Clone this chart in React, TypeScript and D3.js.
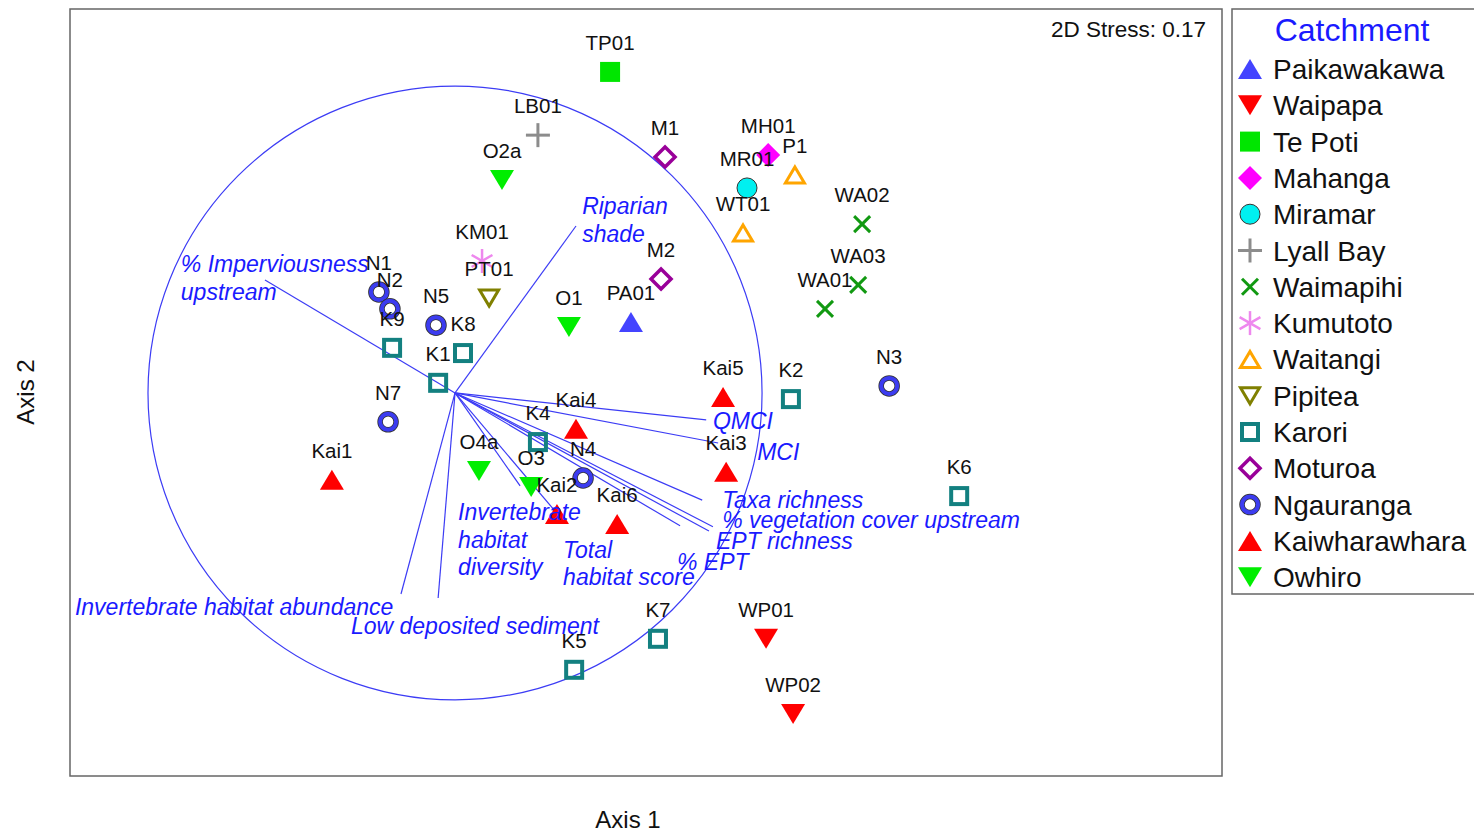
import React from "react";
import * as d3 from "d3";

// ---------- DATA ----------
const catchments = [
  "Paikawakawa", "Waipapa", "Te Poti", "Mahanga", "Miramar", "Lyall Bay", "Waimapihi",
  "Kumutoto", "Waitangi", "Pipitea", "Karori", "Moturoa", "Ngauranga", "Kaiwharawhara", "Owhiro",
];

const siteNames = [
  "TP01", "LB01", "O2a", "M1", "MH01", "MR01", "P1", "WT01", "WA02", "WA03", "WA01", "M2",
  "KM01", "PT01", "O1", "PA01", "N1", "N2", "K9", "N5", "K8", "K1", "N7", "Kai1", "O4a",
  "K4", "Kai4", "O3", "N4", "Kai2", "Kai6", "Kai5", "Kai3", "K2", "N3", "K6", "K7", "K5",
  "WP01", "WP02",
];
const siteCatchment = [
  "Te Poti", "Lyall Bay", "Owhiro", "Moturoa", "Mahanga", "Miramar", "Waitangi", "Waitangi",
  "Waimapihi", "Waimapihi", "Waimapihi", "Moturoa", "Kumutoto", "Pipitea", "Owhiro", "Paikawakawa",
  "Ngauranga", "Ngauranga", "Karori", "Ngauranga", "Karori", "Karori", "Ngauranga", "Kaiwharawhara",
  "Owhiro", "Karori", "Kaiwharawhara", "Owhiro", "Ngauranga", "Kaiwharawhara", "Kaiwharawhara",
  "Kaiwharawhara", "Kaiwharawhara", "Karori", "Ngauranga", "Karori", "Karori", "Karori",
  "Waipapa", "Waipapa",
];
const axis1 = [
  0.505, 0.270, 0.153, 0.684, 1.020, 0.951, 1.107, 0.938, 1.326, 1.313, 1.205, 0.671,
  0.088, 0.111, 0.371, 0.573, -0.248, -0.212, -0.205, -0.062, 0.026, -0.055, -0.218, -0.401,
  0.078, 0.270, 0.394, 0.248, 0.417, 0.332, 0.528, 0.873, 0.883, 1.094, 1.414, 1.642,
  0.661, 0.388, 1.013, 1.101,
];
const axis2 = [
  1.046, 0.840, 0.694, 0.769, 0.775, 0.668, 0.710, 0.521, 0.550, 0.352, 0.274, 0.371,
  0.430, 0.309, 0.215, 0.231, 0.329, 0.274, 0.147, 0.221, 0.130, 0.033, -0.094, -0.283,
  -0.254, -0.160, -0.117, -0.306, -0.277, -0.394, -0.427, -0.013, -0.257, -0.020, 0.023, -0.336,
  -0.801, -0.902, -0.801, -1.046,
];

// Environmental / biotic vectors (correlation coordinates)
const vectorNames = [
  "% Imperviousness upstream", "Riparian shade", "QMCI", "MCI", "Taxa richness",
  "% vegetation cover upstream", "EPT richness", "% EPT", "Total habitat score",
  "Invertebrate habitat diversity", "Invertebrate habitat abundance", "Low deposited sediment",
];
const vectorX = [-0.619, 0.394, 0.818, 0.857, 0.805, 0.840, 0.827, 0.733, 0.336, 0.212, -0.176, -0.055];
const vectorY = [0.368, 0.544, -0.088, -0.163, -0.349, -0.436, -0.450, -0.433, -0.397, -0.303, -0.655, -0.668];
const vectorLabelLines = [
  ["% Imperviousness", "upstream"], ["Riparian", "shade"], ["QMCI"], ["MCI"], ["Taxa richness"],
  ["% vegetation cover upstream"], ["EPT richness"], ["% EPT"], ["Total", "habitat score"],
  ["Invertebrate", "habitat", "diversity"], ["Invertebrate habitat abundance"], ["Low deposited sediment"],
];
// label anchors (data units)
const vectorLabelX = [-0.893, 0.414, 0.840, 0.984, 0.870, 0.870, 0.850, 0.723, 0.352, 0.010, -1.238, -0.339];
const vectorLabelY = [0.394, 0.583, -0.117, -0.218, -0.375, -0.440, -0.508, -0.577, -0.537, -0.414, -0.723, -0.785];

const stressText = "2D Stress: 0.17";
const xDomain = [-1.254, 2.498];
const yDomain = [-1.248, 1.251];

// ---------- STYLES ----------
const catchmentStyle: Record<string, { shape: string; color: string }> = {
  Paikawakawa: { shape: "triUp", color: "#4444ff" },
  Waipapa: { shape: "triDown", color: "#ff0000" },
  "Te Poti": { shape: "square", color: "#00e600" },
  Mahanga: { shape: "diamond", color: "#ff00ff" },
  Miramar: { shape: "circleFill", color: "#00f0f0" },
  "Lyall Bay": { shape: "plus", color: "#8c8c8c" },
  Waimapihi: { shape: "cross", color: "#119911" },
  Kumutoto: { shape: "asterisk", color: "#ee88ee" },
  Waitangi: { shape: "triUpOpen", color: "#ffa500" },
  Pipitea: { shape: "triDownOpen", color: "#808000" },
  Karori: { shape: "squareOpen", color: "#138080" },
  Moturoa: { shape: "diamondOpen", color: "#990099" },
  Ngauranga: { shape: "circleOpen", color: "#3c3cf0" },
  Kaiwharawhara: { shape: "triUp", color: "#ff0000" },
  Owhiro: { shape: "triDown", color: "#00ee00" },
};

const FONT = "Arial, 'Liberation Sans', Helvetica, sans-serif";
const VEC = "#3c3cf5";
const VEC_TEXT = "#1a1aff";

function Marker({ shape, color, x, y }: { shape: string; color: string; x: number; y: number }) {
  const w = 24, h = 20;
  switch (shape) {
    case "triUp":
      return <path d={`M${x},${y - h / 2}L${x + w / 2},${y + h / 2}L${x - w / 2},${y + h / 2}Z`} fill={color} />;
    case "triDown":
      return <path d={`M${x},${y + h / 2}L${x + w / 2},${y - h / 2}L${x - w / 2},${y - h / 2}Z`} fill={color} />;
    case "triUpOpen": {
      const a = 9.5, b = 8;
      return <path d={`M${x},${y - b}L${x + a},${y + b}L${x - a},${y + b}Z`} fill="none" stroke={color} strokeWidth={3} strokeLinejoin="miter" />;
    }
    case "triDownOpen": {
      const a = 9.5, b = 8;
      return <path d={`M${x},${y + b}L${x + a},${y - b}L${x - a},${y - b}Z`} fill="none" stroke={color} strokeWidth={3} />;
    }
    case "square":
      return <rect x={x - 10} y={y - 10} width={20} height={20} fill={color} />;
    case "squareOpen":
      return <rect x={x - 8} y={y - 8} width={16} height={16} fill="none" stroke={color} strokeWidth={4} />;
    case "diamond":
      return <path d={`M${x},${y - 12}L${x + 12},${y}L${x},${y + 12}L${x - 12},${y}Z`} fill={color} />;
    case "diamondOpen":
      return <path d={`M${x},${y - 10}L${x + 10},${y}L${x},${y + 10}L${x - 10},${y}Z`} fill="none" stroke={color} strokeWidth={3.5} />;
    case "circleFill":
      return <circle cx={x} cy={y} r={10} fill={color} stroke="#333" strokeWidth={1} />;
    case "circleOpen":
      return (
        <g>
          <circle cx={x} cy={y} r={8} fill="#fff" stroke="#333" strokeWidth={5.5} />
          <circle cx={x} cy={y} r={8} fill="none" stroke={color} strokeWidth={4} />
        </g>
      );
    case "plus":
      return (
        <g stroke={color} strokeWidth={3}>
          <line x1={x - 12} y1={y} x2={x + 12} y2={y} />
          <line x1={x} y1={y - 12} x2={x} y2={y + 12} />
        </g>
      );
    case "cross":
      return (
        <g stroke={color} strokeWidth={3}>
          <line x1={x - 8} y1={y - 8} x2={x + 8} y2={y + 8} />
          <line x1={x - 8} y1={y + 8} x2={x + 8} y2={y - 8} />
        </g>
      );
    case "asterisk": {
      const r = 12;
      const angs = [90, 30, 150];
      return (
        <g stroke={color} strokeWidth={2.5}>
          {angs.map((a) => {
            const rad = (a * Math.PI) / 180;
            return <line key={a} x1={x - r * Math.cos(rad)} y1={y - r * Math.sin(rad)} x2={x + r * Math.cos(rad)} y2={y + r * Math.sin(rad)} />;
          })}
        </g>
      );
    }
    default:
      return null;
  }
}

export default function App() {
  const W = 1474, H = 832;
  const frame = { left: 70, top: 9, right: 1222, bottom: 776 };
  const x = d3.scaleLinear().domain(xDomain).range([frame.left, frame.right]);
  const y = d3.scaleLinear().domain(yDomain).range([frame.bottom, frame.top]);
  const ox = x(0), oy = y(0);
  const rx = x(1) - x(0), ry = y(0) - y(1);

  const legend = { x: 1232, y: 9, rowY0: 69, rowDy: 36.3 };

  return (
    <svg width={W} height={H} style={{ position: "absolute", left: 0, top: 0, background: "#fff" }} fontFamily={FONT}>
      <rect x={0} y={0} width={W} height={H} fill="#fff" />
      {/* plot frame */}
      <rect x={frame.left} y={frame.top} width={frame.right - frame.left} height={frame.bottom - frame.top} fill="none" stroke="#666" strokeWidth={1.5} />

      {/* correlation circle */}
      <ellipse cx={ox} cy={oy} rx={rx} ry={ry} fill="none" stroke={VEC} strokeWidth={1.2} />

      {/* vectors */}
      {vectorNames.map((n, i) => (
        <line key={n} x1={ox} y1={oy} x2={x(vectorX[i])} y2={y(vectorY[i])} stroke={VEC} strokeWidth={1.2} />
      ))}

      {/* points */}
      {siteNames.map((s, i) => {
        const st = catchmentStyle[siteCatchment[i]];
        return <Marker key={s} shape={st.shape} color={st.color} x={x(axis1[i])} y={y(axis2[i])} />;
      })}
      {siteNames.map((s, i) => (
        <text key={s + "l"} x={x(axis1[i])} y={y(axis2[i]) - 22} textAnchor="middle" fontSize={20.5} fill="#111">
          {s}
        </text>
      ))}

      {/* vector labels */}
      {vectorNames.map((n, i) => (
        <text key={n + "t"} x={x(vectorLabelX[i])} y={y(vectorLabelY[i])} fontSize={23} fontStyle="italic" fill={VEC_TEXT}>
          {vectorLabelLines[i].map((ln, j) => (
            <tspan key={j} x={x(vectorLabelX[i])} dy={j === 0 ? 0 : 27.5}>
              {ln}
            </tspan>
          ))}
        </text>
      ))}

      {/* stress */}
      <text x={1206} y={37} textAnchor="end" fontSize={22.5} fill="#111">{stressText}</text>

      {/* axis titles */}
      <text x={628} y={828} textAnchor="middle" fontSize={24} fill="#111">Axis 1</text>
      <text transform={`translate(34,${392}) rotate(-90)`} textAnchor="middle" fontSize={24} fill="#111">Axis 2</text>

      {/* legend */}
      <rect x={legend.x} y={legend.y} width={260} height={585} fill="#fff" stroke="#666" strokeWidth={1.5} />
      <text x={1352} y={41} textAnchor="middle" fontSize={32} fill="#1a1aff">Catchment</text>
      {catchments.map((c, i) => {
        const ry2 = legend.rowY0 + i * legend.rowDy;
        const st = catchmentStyle[c];
        return (
          <g key={c}>
            <Marker shape={st.shape} color={st.color} x={1250} y={ry2} />
            <text x={1273} y={ry2 + 10} fontSize={28} fill="#111">{c}</text>
          </g>
        );
      })}
    </svg>
  );
}
